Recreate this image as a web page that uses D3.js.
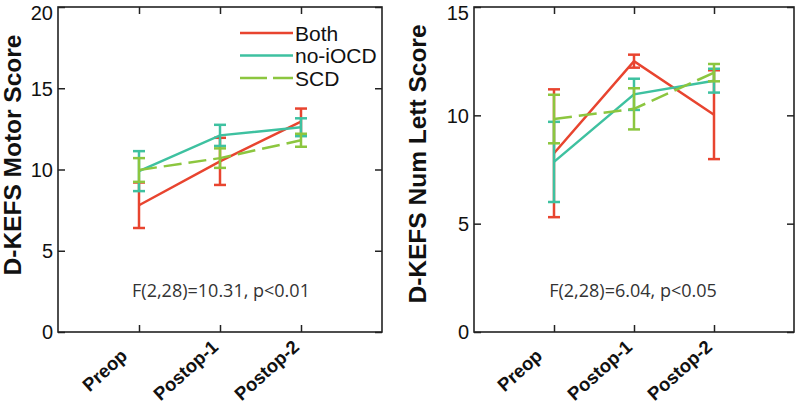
<!DOCTYPE html>
<html>
<head>
<meta charset="utf-8">
<script src="https://cdn.jsdelivr.net/npm/d3@7"></script>
<style>
  html, body { margin: 0; padding: 0; background: #fff; }
  svg { display: block; }
</style>
</head>
<body>
<svg id="chart" width="800" height="407"></svg>
<script>
// ---- data ----
const categories = ["Preop", "Postop-1", "Postop-2"];
const seriesNames = ["Both", "no-iOCD", "SCD"];

const motorBoth = [7.8, 10.5, 12.95];
const motorBothErr = [1.4, 1.45, 0.8];
const motorNoIOCD = [9.9, 12.1, 12.6];
const motorNoIOCDErr = [1.23, 0.65, 0.55];
const motorSCD = [9.97, 10.7, 11.8];
const motorSCDErr = [0.73, 0.6, 0.4];

const numBoth = [8.25, 12.5, 10.03];
const numBothErr = [2.95, 0.3, 2.05];
const numNoIOCD = [7.85, 10.97, 11.6];
const numNoIOCDErr = [1.85, 0.72, 0.55];
const numSCD = [9.83, 10.3, 11.97];
const numSCDErr = [1.12, 0.95, 0.4];

const motorTicks = [0, 5, 10, 15, 20];
const numTicks = [0, 5, 10, 15];

// ---- styles ----
const colors = {"Both": "#e8442f", "no-iOCD": "#3ec1a0", "SCD": "#8cc63f"};
const dashes = {"Both": null, "no-iOCD": null, "SCD": "18,7"};

const svg = d3.select("#chart");

function panel(opts) {
  const g = svg.append("g");
  const x = d3.scalePoint().domain(categories).range([opts.left, opts.right]).padding(1);
  const y = d3.scaleLinear().domain(opts.yDomain).range([opts.bottom, opts.top]);

  const tickLen = 7;
  const axL = g.append("g").attr("transform", `translate(${opts.left},0)`)
    .call(d3.axisLeft(y).tickValues(opts.yTicks).tickSize(-tickLen).tickPadding(5));
  const axR = g.append("g").attr("transform", `translate(${opts.right},0)`)
    .call(d3.axisRight(y).tickValues(opts.yTicks).tickSize(-tickLen).tickFormat(""));
  const axT = g.append("g").attr("transform", `translate(0,${opts.top})`)
    .call(d3.axisTop(x).tickSize(-tickLen).tickFormat(""));
  const axB = g.append("g").attr("transform", `translate(0,${opts.bottom})`)
    .call(d3.axisBottom(x).tickSize(-tickLen).tickFormat(""));
  [axL, axR, axT, axB].forEach(a => {
    a.select(".domain").remove();
    a.selectAll(".tick line").attr("stroke", "#222").attr("stroke-width", 1.5);
  });
  const maxTick = d3.max(opts.yTicks);
  axL.selectAll(".tick text")
    .attr("font-family", "'Liberation Sans', Arial, sans-serif")
    .attr("font-size", 20).attr("fill", "#111")
    .attr("dy", d => d === maxTick ? "0.62em" : "0.34em");

  g.append("rect")
    .attr("x", opts.left).attr("y", opts.top)
    .attr("width", opts.right - opts.left).attr("height", opts.bottom - opts.top)
    .attr("fill", "none").attr("stroke", "#222").attr("stroke-width", 1.6);

  g.selectAll(".xlab").data(categories).enter().append("text")
    .attr("class", "xlab")
    .attr("transform", d => `translate(${x(d) - 30},${opts.bottom + 43}) rotate(-42)`)
    .attr("text-anchor", "middle")
    .attr("font-family", "'Liberation Sans', Arial, sans-serif")
    .attr("font-weight", "bold").attr("font-size", 18.5).attr("fill", "#111")
    .text(d => d);

  g.append("text")
    .attr("transform", `translate(${opts.titleX},${opts.titleY}) rotate(-90)`)
    .attr("text-anchor", "middle")
    .attr("font-family", "'Liberation Sans', Arial, sans-serif")
    .attr("font-weight", "bold").attr("font-size", 24.5).attr("fill", "#111")
    .text(opts.title);

  g.append("text")
    .attr("x", opts.statX).attr("y", 297)
    .attr("text-anchor", "middle")
    .attr("font-family", "'Open Sans', sans-serif")
    .attr("font-size", 18).attr("fill", "#333")
    .text(opts.stat);

  const line = d3.line().x((d, i) => x(categories[i])).y(d => y(d));
  opts.series.forEach(s => {
    const sg = g.append("g");
    sg.append("path").datum(s.values)
      .attr("d", line).attr("fill", "none")
      .attr("stroke", colors[s.name]).attr("stroke-width", 2.5)
      .attr("stroke-dasharray", dashes[s.name]);
    const capW = 6;
    s.values.forEach((v, i) => {
      const cx = x(categories[i]);
      const hi = y(v + s.err[i]), lo = y(v - s.err[i]);
      sg.append("line").attr("x1", cx).attr("x2", cx).attr("y1", hi).attr("y2", lo)
        .attr("stroke", colors[s.name]).attr("stroke-width", 2.5);
      [hi, lo].forEach(yy => {
        sg.append("line").attr("x1", cx - capW).attr("x2", cx + capW).attr("y1", yy).attr("y2", yy)
          .attr("stroke", colors[s.name]).attr("stroke-width", 2.5);
      });
    });
  });

  return {g, x, y};
}

panel({
  left: 58, right: 382, top: 7, bottom: 332,
  yDomain: [0, 20], yTicks: motorTicks,
  title: "D-KEFS Motor Score", titleX: 21, titleY: 155,
  stat: "F(2,28)=10.31, p<0.01", statX: 221,
  series: [
    {name: "Both", values: motorBoth, err: motorBothErr},
    {name: "no-iOCD", values: motorNoIOCD, err: motorNoIOCDErr},
    {name: "SCD", values: motorSCD, err: motorSCDErr}
  ]
});

panel({
  left: 474, right: 794, top: 7, bottom: 332,
  yDomain: [0, 15], yTicks: numTicks,
  title: "D-KEFS Num Lett Score", titleX: 426, titleY: 164,
  stat: "F(2,28)=6.04, p<0.05", statX: 633,
  series: [
    {name: "Both", values: numBoth, err: numBothErr},
    {name: "no-iOCD", values: numNoIOCD, err: numNoIOCDErr},
    {name: "SCD", values: numSCD, err: numSCDErr}
  ]
});

const leg = svg.append("g");
seriesNames.forEach((n, i) => {
  const ly = 33 + i * 22.5;
  leg.append("line").attr("x1", 240).attr("x2", 293).attr("y1", ly).attr("y2", ly)
    .attr("stroke", colors[n]).attr("stroke-width", 2.5)
    .attr("stroke-dasharray", n === "SCD" ? "27,6" : null);
  leg.append("text").attr("x", 295).attr("y", ly).attr("dy", "0.36em")
    .attr("font-family", "'Liberation Sans', Arial, sans-serif")
    .attr("font-size", 21).attr("fill", "#111").text(n);
});
</script>
</body>
</html>
